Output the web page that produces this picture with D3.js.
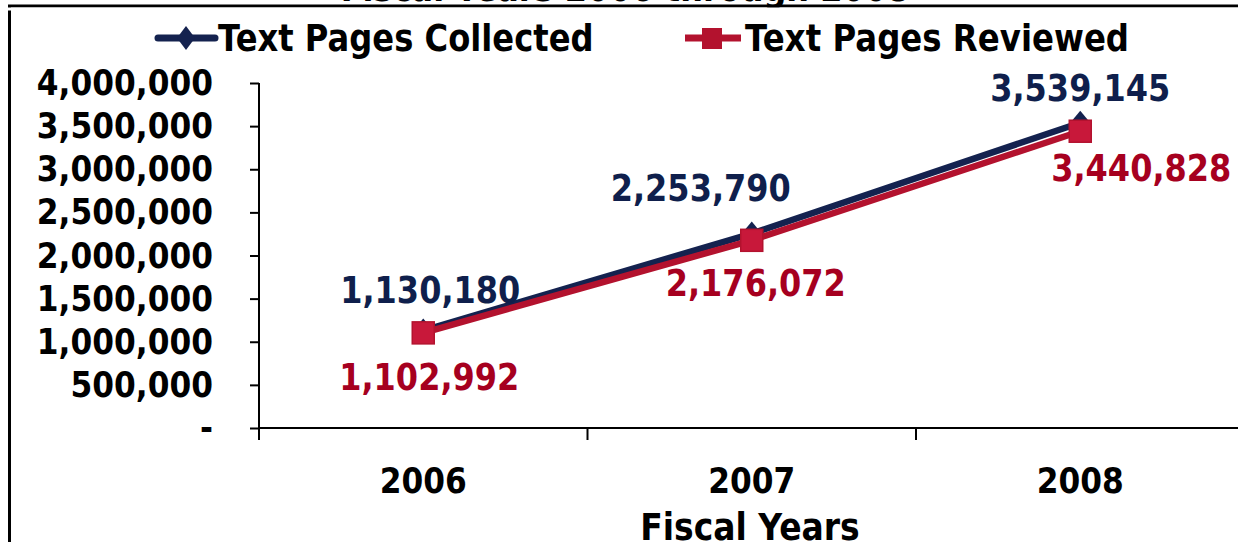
<!DOCTYPE html>
<html>
<head>
<meta charset="utf-8">
<script src="https://cdn.jsdelivr.net/npm/d3@7/dist/d3.min.js"></script>
<style>
  html, body { margin: 0; padding: 0; background: #fff; }
  svg text { font-family: "DejaVu Sans", Verdana, sans-serif; font-weight: bold; }
</style>
</head>
<body>
<svg id="chart" width="1238" height="542"></svg>
<script>
// ---- data ----
const years = ["2006", "2007", "2008"];
const collected = [1130180, 2253790, 3539145];
const reviewed = [1102992, 2176072, 3440828];
const seriesNames = ["Text Pages Collected", "Text Pages Reviewed"];
const yTicks = [0, 500000, 1000000, 1500000, 2000000, 2500000, 3000000, 3500000, 4000000];
const titleText = "Fiscal Years 2006 through 2008";
const xTitle = "Fiscal Years";

// ---- layout / style ----
const navy = "#14224f", red = "#b3122e";
const navyText = "#0f1f4c", redText = "#a6001f";
const stretch = 1.15;
const fmt = d3.format(",");

const svg = d3.select("#chart");

const x = d3.scaleBand().domain(years).range([259, 1244.5]).padding(0);
const y = d3.scaleLinear().domain([0, 4000000]).range([428, 83]);
const cx = d => x(d) + x.bandwidth() / 2;

// frame (partially outside the window)
svg.append("path").attr("d", "M9.5,560 V6 H1240").attr("fill", "none")
  .attr("stroke", "#000").attr("stroke-width", 3);

// title (cut off at top)
svg.append("text").attr("transform", `translate(625,1) scale(1,${stretch})`)
  .attr("text-anchor", "middle").attr("font-size", 32).attr("fill", "#000").text(titleText);
svg.append("rect").attr("x", 0).attr("y", 7.5).attr("width", 1238).attr("height", 3).attr("fill", "#fff");

// y axis
const yAxis = d3.axisLeft(y).tickValues(yTicks).tickSize(9).tickPadding(37)
  .tickFormat(d => d === 0 ? "-" : fmt(d));
const gy = svg.append("g").attr("transform", "translate(259,0)").call(yAxis);
gy.select(".domain").remove();
gy.selectAll("line").attr("stroke", "#000").attr("stroke-width", 2);
gy.selectAll("text").attr("font-size", 31.3).attr("fill", "#000")
  .attr("font-family", "DejaVu Sans").attr("font-weight", "bold")
  .attr("transform", `scale(1,${stretch})`);
svg.append("line").attr("x1", 259).attr("x2", 259).attr("y1", y(4000000)).attr("y2", 440)
  .attr("stroke", "#000").attr("stroke-width", 2);

// x axis
svg.append("line").attr("x1", 259).attr("x2", 1238).attr("y1", 428).attr("y2", 428)
  .attr("stroke", "#000").attr("stroke-width", 2);
const boundaries = years.map(d => x(d)).concat([x(years[years.length - 1]) + x.bandwidth()]);
svg.selectAll(".xb").data(boundaries).enter().append("line")
  .attr("x1", d => d).attr("x2", d => d).attr("y1", 428).attr("y2", 440)
  .attr("stroke", "#000").attr("stroke-width", 2);

const xAxis = d3.axisBottom(x).tickSize(0).tickPadding(34.5);
const gx = svg.append("g").attr("transform", "translate(0,428)").call(xAxis);
gx.select(".domain").remove();
gx.selectAll("text").attr("font-size", 31.3).attr("fill", "#000")
  .attr("font-family", "DejaVu Sans").attr("font-weight", "bold")
  .attr("transform", `scale(1,${stretch})`);

svg.append("text").attr("transform", `translate(750,540) scale(1,${stretch})`)
  .attr("text-anchor", "middle").attr("font-size", 33).attr("fill", "#000").text(xTitle);

// lines
const line = d3.line().x((d, i) => cx(years[i])).y(d => y(d));
svg.append("path").datum(collected).attr("d", line).attr("fill", "none")
  .attr("stroke", navy).attr("stroke-width", 6.5);
const diamond = (px, py, w, h) => `M${px},${py - h / 2} L${px + w / 2},${py} L${px},${py + h / 2} L${px - w / 2},${py} Z`;
svg.selectAll(".dia").data(collected).enter().append("path")
  .attr("d", (d, i) => diamond(cx(years[i]), y(d), 20, 24)).attr("fill", navy);

svg.append("path").datum(reviewed).attr("d", line).attr("fill", "none")
  .attr("stroke", red).attr("stroke-width", 6.5);
svg.selectAll(".sq").data(reviewed).enter().append("rect")
  .attr("x", (d, i) => cx(years[i]) - 11).attr("y", d => y(d) - 11)
  .attr("width", 22).attr("height", 22).attr("fill", "#c8183a").attr("stroke", red).attr("stroke-width", 1.5);

// data labels
const collectedLabelOffsets = [[7, -41], [-51, -46], [0, -35]];
const reviewedLabelOffsets = [[6, 44], [4, 42], [61, 37]];
function labels(vals, offs, color) {
  svg.selectAll(null).data(vals).enter().append("text")
    .attr("transform", (d, i) => `translate(${cx(years[i]) + offs[i][0]},${y(d) + offs[i][1]}) scale(1,${stretch})`)
    .attr("text-anchor", "middle").attr("dy", "0.36em")
    .attr("font-size", 32).attr("fill", color).text(d => fmt(d));
}
labels(collected, collectedLabelOffsets, navyText);
labels(reviewed, reviewedLabelOffsets, redText);

// legend
const lg = svg.append("g");
lg.append("line").attr("x1", 158).attr("x2", 215).attr("y1", 38).attr("y2", 38)
  .attr("stroke", navy).attr("stroke-width", 7).attr("stroke-linecap", "round");
lg.append("path").attr("d", diamond(186, 38, 18, 24)).attr("fill", navy);
lg.append("text").attr("transform", `translate(218,38) scale(1,${stretch})`).attr("dy", "0.36em")
  .attr("font-size", 32.2).attr("fill", "#000").text(seriesNames[0]);

lg.append("line").attr("x1", 685).attr("x2", 741).attr("y1", 38).attr("y2", 38)
  .attr("stroke", red).attr("stroke-width", 7);
lg.append("rect").attr("x", 702).attr("y", 28).attr("width", 20).attr("height", 21).attr("fill", red);
lg.append("text").attr("transform", `translate(745,38) scale(1,${stretch})`).attr("dy", "0.36em")
  .attr("font-size", 32.4).attr("fill", "#000").text(seriesNames[1]);
</script>
</body>
</html>
